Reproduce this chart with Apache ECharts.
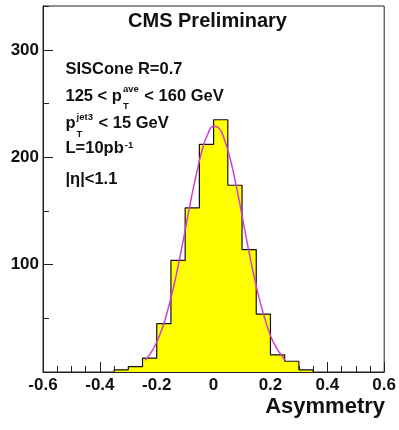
<!DOCTYPE html>
<html>
<head>
<meta charset="utf-8">
<script src="https://cdn.jsdelivr.net/npm/echarts@6/dist/echarts.min.js"></script>
<style>
html,body{margin:0;padding:0;background:#fff;}
#chart{width:399px;height:430px;}
</style>
</head>
<body>
<div id="chart"></div>
<script>
// ---- data ----
const binEdges = [-0.35,-0.3,-0.25,-0.2,-0.15,-0.1,-0.05,0,0.05,0.1,0.15,0.2,0.25,0.3,0.35];
const binCounts = [2,5,13,45,104,153,212,235,174,114,54,16,10,2];
const fitX = [-0.24,-0.22,-0.2,-0.18,-0.16,-0.14,-0.12,-0.1,-0.08,-0.06,-0.04,-0.02,0,0.02,0.04,0.06,0.08,0.1,0.12,0.14,0.16,0.18,0.2,0.22,0.24,0.25];
const fitY = [11,18,28,41,59,80,105,132,160,185,207,222,229,227,215,197,173,146,118,92,69,50,34,23,15,11];
const xTickLabels = ['-0.6','-0.4','-0.2','0','0.2','0.4','0.6'];
const yTickLabels = ['100','200','300'];
const titleText = 'CMS Preliminary';
const xAxisTitle = 'Asymmetry';

const FONT = '"Liberation Sans", Arial, Helvetica, sans-serif';

const histData = [[binEdges[0], 0]];
for (let i = 0; i < binCounts.length; i++) histData.push([binEdges[i], binCounts[i]]);
histData.push([binEdges[binEdges.length - 1], binCounts[binCounts.length - 1]]);
histData.push([binEdges[binEdges.length - 1], 0]);
const fitData = fitX.map((x, i) => [x, fitY[i]]);

// text helpers
const mctx = document.createElement('canvas').getContext('2d');
function tw(s, size) { mctx.font = 'bold ' + size + 'px ' + FONT; return mctx.measureText(s).width; }
const elements = [];
function txt(s, x, baseline, size, align) {
  elements.push({
    type: 'text', x: x, y: baseline - 0.3465 * size, silent: true,
    style: { text: s, font: 'bold ' + size + 'px ' + FONT, fill: '#111',
      align: align || 'left', textAlign: align || 'left',
      verticalAlign: 'middle', textVerticalAlign: 'middle' }
  });
}
const MS = 16.5, SS = 9.5;
function richLine(x, base, parts) {
  let cx = x;
  parts.forEach(p => {
    if (typeof p === 'string') { txt(p, cx, base, MS); cx += tw(p, MS); }
    else {
      let w = 0;
      if (p.sub) { txt(p.sub, cx + 1, base + 8, SS); w = Math.max(w, tw(p.sub, SS)); }
      if (p.sup) { txt(p.sup, cx + 1, base - (p.supUp || 9), SS); w = Math.max(w, tw(p.sup, SS)); }
      cx += w + 2;
    }
  });
}
const LX = 65.5;
txt(titleText, 207.5, 28.5, 20, 'center');
richLine(LX, 75.5, ['SISCone R=0.7']);
richLine(LX, 102, ['125 < p', {sub: 'T', sup: 'ave'}, ' < 160 GeV']);
richLine(LX, 129.5, ['p', {sub: 'T', sup: 'jet3'}, ' < 15 GeV']);
richLine(LX, 154.5, ['L=10pb', {sup: '-1', supUp: 5.5}]);
richLine(LX, 185, ['|\u03b7|<1.1']);
txt(xAxisTitle, 385, 414.5, 22, 'right');

const chart = echarts.init(document.getElementById('chart'), null, {renderer: 'canvas'});
const labelFont = {fontFamily: FONT, fontWeight: 'bold', fontSize: 17, color: '#111'};
chart.setOption({
  animation: false,
  backgroundColor: '#fff',
  grid: {left: 43, right: 11, top: 6, bottom: 58, show: true, borderColor: '#222', borderWidth: 1, backgroundColor: 'transparent', containLabel: false},
  xAxis: [{
    type: 'value', min: -0.6, max: 0.6, interval: 0.2,
    axisLine: {show: true, onZero: false, lineStyle: {color: '#222', width: 1}},
    axisTick: {show: true, inside: true, length: 10, lineStyle: {color: '#222'}},
    minorTick: {show: true, splitNumber: 4, length: 6, lineStyle: {color: '#222'}},
    splitLine: {show: false},
    axisLabel: Object.assign({margin: 5, showMinLabel: true, showMaxLabel: true,
      formatter: v => { const i = Math.round((v + 0.6) / 0.2); return xTickLabels[i] !== undefined ? xTickLabels[i] : ''; }}, labelFont)
  }],
  yAxis: [{
    type: 'value', min: 0, max: 341, interval: 100, position: 'left',
    axisLine: {show: true, onZero: false, lineStyle: {color: '#222', width: 1}},
    axisTick: {show: true, inside: true, length: 10, lineStyle: {color: '#222'}},
    splitLine: {show: false},
    axisLabel: Object.assign({margin: 4, showMaxLabel: false,
      formatter: v => { const i = Math.round(v / 100) - 1; return (Math.abs(v - Math.round(v / 100) * 100) < 1e-6 && yTickLabels[i]) ? yTickLabels[i] : ''; }}, labelFont)
  }, {
    type: 'value', min: 0, max: 341, interval: 50, position: 'left',
    axisLine: {show: false, onZero: false},
    axisTick: {show: true, inside: true, length: 6, lineStyle: {color: '#222'}},
    splitLine: {show: false},
    axisLabel: {show: false}
  }],
  series: [{
    type: 'line', step: 'end', data: histData, symbol: 'none', yAxisIndex: 0,
    lineStyle: {color: '#111', width: 1.2},
    areaStyle: {color: '#ffff00', opacity: 1},
    z: 2, silent: true
  }, {
    type: 'line', smooth: true, data: fitData, symbol: 'none', yAxisIndex: 0,
    lineStyle: {color: '#d040d0', width: 1.5},
    z: 3, silent: true
  }],
  graphic: {elements: elements}
});
</script>
</body>
</html>
